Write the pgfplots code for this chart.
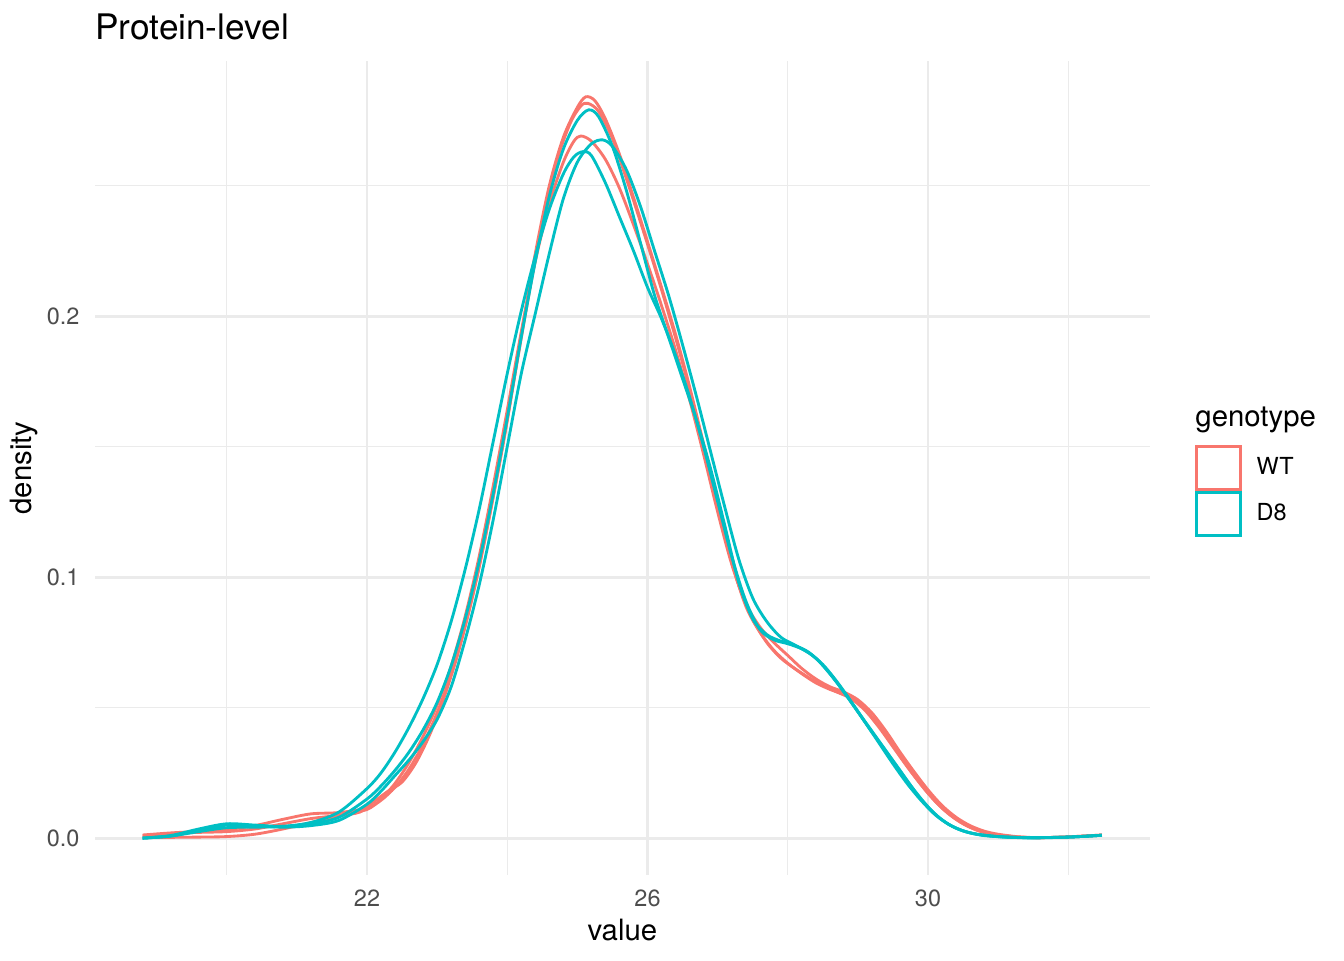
\documentclass[border=0pt]{standalone}
\usepackage{pgfplots}
\pgfplotsset{compat=1.18}
\usepackage{fontspec}
\setmainfont{TeX Gyre Heros}
\definecolor{wt}{HTML}{F8766D}
\definecolor{dd}{HTML}{00BFC4}
\definecolor{gridc}{HTML}{EBEBEB}
\definecolor{tickc}{HTML}{4D4D4D}
\begin{document}
\begin{tikzpicture}
\path[use as bounding box] (0,0) rectangle (504pt,360pt);
\begin{axis}[
  at={(35.6pt,31.8pt)}, anchor=south west,
  scale only axis, width=395.5pt, height=305.3pt,
  xmin=18.12, xmax=33.16, ymin=-0.0142, ymax=0.2977,
  xtick={22,26,30}, xticklabels={22,26,30},
  minor xtick={20,24,28,32},
  ytick={0,0.1,0.2}, yticklabels={0.0,0.1,0.2},
  minor ytick={0.05,0.15,0.25},
  grid=both,
  major grid style={draw=gridc, line width=1.07pt},
  minor grid style={draw=gridc, line width=0.53pt},
  axis line style={draw=none},
  major tick length=0pt, minor tick length=0pt,
  tick style={draw=none},
  /pgf/number format/assume math mode=true,
  xticklabel style={anchor=base, inner sep=0pt, yshift=-11.55pt, font=\fontsize{8.8}{10}\selectfont, text=tickc},
  yticklabel style={anchor=east, inner sep=0pt, xshift=-5.6pt, font=\fontsize{8.8}{10}\selectfont, text=tickc},
  legend style={at={(1.0430,0.5283)}, anchor=north west, draw=none, fill=none, inner sep=0pt, outer sep=0pt,
    row sep=0pt, column sep=0pt, font=\fontsize{8.8}{10}\selectfont,
    nodes={inner sep=0pt, outer sep=0pt}},
  legend cell align=left,
  legend image code/.code={\draw[#1, fill=none, line width=1.07pt] (0pt,-8.1pt) rectangle (16.5pt,8.1pt); \path (22.1pt,0pt);},
  every axis plot/.append style={line width=1.07pt, smooth},
]
% WT sample 1
\addplot[wt] table {
18.8 0.0012
19.2 0.0020
19.6 0.0026
20.0 0.0033
20.4 0.0048
20.8 0.0072
21.2 0.0093
21.6 0.0098
22.0 0.0115
22.2 0.0145
22.4 0.0195
22.6 0.0265
22.8 0.0360
23.0 0.0480
23.2 0.0630
23.4 0.0815
23.6 0.1040
23.8 0.1310
24.0 0.1600
24.2 0.1930
24.4 0.2240
24.6 0.2500
24.8 0.2685
25.0 0.2800
25.12 0.2840
25.25 0.2825
25.4 0.2755
25.6 0.2620
25.8 0.2455
26.0 0.2285
26.2 0.2110
26.4 0.1930
26.6 0.1730
26.8 0.1510
27.0 0.1280
27.2 0.1060
27.4 0.0890
27.6 0.0790
27.8 0.0720
28.0 0.0670
28.2 0.0630
28.4 0.0595
28.6 0.0570
28.8 0.0550
29.0 0.0520
29.2 0.0465
29.4 0.0395
29.6 0.0315
29.8 0.0240
30.0 0.0172
30.2 0.0115
30.4 0.0072
30.6 0.0042
30.8 0.0023
31.0 0.0012
31.3 0.0004
31.6 0.0002
32.0 0.0005
32.48 0.0012
};
\addlegendentry{WT}
% WT sample 2
\addplot[wt, forget plot] table {
18.8 0.0002
19.2 0.0003
19.6 0.0004
20.0 0.0006
20.4 0.0015
20.8 0.0035
21.2 0.0060
21.6 0.0085
21.9 0.0100
22.1 0.0140
22.3 0.0180
22.5 0.0215
22.7 0.0290
22.9 0.0400
23.1 0.0540
23.3 0.0710
23.5 0.0920
23.7 0.1170
23.9 0.1450
24.1 0.1760
24.3 0.2070
24.5 0.2360
24.7 0.2590
24.9 0.2740
25.05 0.2805
25.15 0.2815
25.3 0.2785
25.5 0.2680
25.7 0.2525
25.9 0.2360
26.1 0.2190
26.3 0.2010
26.5 0.1820
26.7 0.1610
26.9 0.1380
27.1 0.1160
27.3 0.0970
27.5 0.0840
27.7 0.0750
27.9 0.0690
28.1 0.0650
28.3 0.0615
28.5 0.0585
28.7 0.0560
28.9 0.0535
29.1 0.0490
29.3 0.0425
29.5 0.0350
29.7 0.0275
29.9 0.0205
30.1 0.0142
30.3 0.0092
30.5 0.0055
30.7 0.0030
30.9 0.0016
31.2 0.0006
31.5 0.0002
32.0 0.0004
32.48 0.0011
};
% WT sample 3
\addplot[wt, forget plot] table {
18.8 0.0010
19.2 0.0018
19.6 0.0022
20.0 0.0025
20.4 0.0035
20.8 0.0055
21.2 0.0075
21.6 0.0088
22.0 0.0110
22.2 0.0150
22.4 0.0210
22.6 0.0290
22.8 0.0390
23.0 0.0510
23.2 0.0660
23.4 0.0850
23.6 0.1080
23.8 0.1350
24.0 0.1640
24.2 0.1940
24.4 0.2210
24.6 0.2430
24.8 0.2590
24.95 0.2670
25.05 0.2690
25.2 0.2670
25.4 0.2600
25.6 0.2490
25.8 0.2350
26.0 0.2200
26.2 0.2040
26.4 0.1870
26.6 0.1680
26.8 0.1470
27.0 0.1250
27.2 0.1050
27.4 0.0900
27.6 0.0810
27.8 0.0750
28.0 0.0700
28.2 0.0650
28.4 0.0610
28.6 0.0580
28.8 0.0560
29.0 0.0530
29.2 0.0480
29.4 0.0410
29.6 0.0330
29.8 0.0255
30.0 0.0185
30.2 0.0125
30.4 0.0080
30.6 0.0048
30.8 0.0027
31.0 0.0015
31.3 0.0005
31.6 0.0002
32.0 0.0005
32.48 0.0012
};
% D8 sample 1
\addplot[dd] table {
18.8 0.0000
19.2 0.0010
19.6 0.0035
20.0 0.0055
20.4 0.0050
20.8 0.0045
21.2 0.0055
21.6 0.0080
22.0 0.0150
22.2 0.0200
22.4 0.0260
22.6 0.0330
22.8 0.0415
23.0 0.0520
23.2 0.0660
23.4 0.0840
23.6 0.1060
23.8 0.1320
24.0 0.1610
24.2 0.1920
24.4 0.2210
24.6 0.2460
24.8 0.2640
25.0 0.2750
25.16 0.2790
25.3 0.2765
25.5 0.2650
25.7 0.2480
25.9 0.2280
26.1 0.2080
26.3 0.1920
26.5 0.1760
26.7 0.1600
26.9 0.1415
27.1 0.1200
27.3 0.0980
27.5 0.0840
27.7 0.0780
27.9 0.0755
28.1 0.0738
28.3 0.0712
28.5 0.0662
28.7 0.0597
28.9 0.0522
29.1 0.0445
29.3 0.0370
29.5 0.0295
29.7 0.0220
29.9 0.0150
30.1 0.0092
30.3 0.0052
30.5 0.0028
30.7 0.0015
31.0 0.0006
31.4 0.0002
32.0 0.0004
32.48 0.0011
};
\addlegendentry{D8}
% D8 sample 2
\addplot[dd, forget plot] table {
18.8 0.0000
19.2 0.0008
19.6 0.0030
20.0 0.0050
20.4 0.0048
20.8 0.0042
21.2 0.0048
21.6 0.0068
22.0 0.0130
22.2 0.0180
22.4 0.0240
22.6 0.0300
22.8 0.0370
23.0 0.0455
23.2 0.0580
23.4 0.0760
23.6 0.0970
23.8 0.1220
24.0 0.1500
24.2 0.1780
24.4 0.2010
24.6 0.2240
24.8 0.2450
25.0 0.2590
25.2 0.2660
25.36 0.2675
25.5 0.2650
25.7 0.2560
25.9 0.2420
26.1 0.2250
26.3 0.2080
26.5 0.1890
26.7 0.1690
26.9 0.1480
27.1 0.1270
27.3 0.1070
27.5 0.0920
27.7 0.0830
27.9 0.0770
28.1 0.0740
28.3 0.0710
28.5 0.0665
28.7 0.0600
28.9 0.0525
29.1 0.0445
29.3 0.0365
29.5 0.0285
29.7 0.0210
29.9 0.0145
30.1 0.0090
30.3 0.0052
30.5 0.0028
30.7 0.0015
31.0 0.0006
31.4 0.0002
32.0 0.0004
32.48 0.0011
};
% D8 sample 3
\addplot[dd, forget plot] table {
18.8 0.0000
19.2 0.0008
19.6 0.0025
20.0 0.0040
20.4 0.0042
20.8 0.0045
21.2 0.0060
21.6 0.0100
22.0 0.0190
22.2 0.0250
22.4 0.0330
22.6 0.0425
22.8 0.0535
23.0 0.0665
23.2 0.0830
23.4 0.1030
23.6 0.1260
23.8 0.1520
24.0 0.1780
24.2 0.2020
24.4 0.2230
24.6 0.2410
24.8 0.2545
24.95 0.2610
25.08 0.2630
25.2 0.2615
25.4 0.2510
25.6 0.2380
25.8 0.2250
26.0 0.2110
26.2 0.1990
26.4 0.1850
26.6 0.1690
26.8 0.1500
27.0 0.1290
27.2 0.1080
27.4 0.0910
27.6 0.0800
27.8 0.0760
28.0 0.0745
28.2 0.0725
28.4 0.0690
28.6 0.0630
28.8 0.0560
29.0 0.0485
29.2 0.0410
29.4 0.0335
29.6 0.0260
29.8 0.0185
30.0 0.0120
30.2 0.0070
30.4 0.0038
30.6 0.0020
30.8 0.0010
31.1 0.0004
31.5 0.0001
32.0 0.0004
32.48 0.0011
};
\end{axis}
\node[anchor=base west, inner sep=0pt, font=\fontsize{13.2}{15}\selectfont] at (35.6pt,345pt) {Protein-level};
\node[anchor=base, inner sep=0pt, font=\fontsize{11}{13}\selectfont] at (233.4pt,7.5pt) {value};
\node[anchor=base, rotate=90, inner sep=0pt, font=\fontsize{11}{13}\selectfont] at (12pt,184.5pt) {density};
\node[anchor=base west, inner sep=0pt, font=\fontsize{11}{13}\selectfont] at (448.1pt,200.25pt) {genotype};
\end{tikzpicture}
\end{document}
